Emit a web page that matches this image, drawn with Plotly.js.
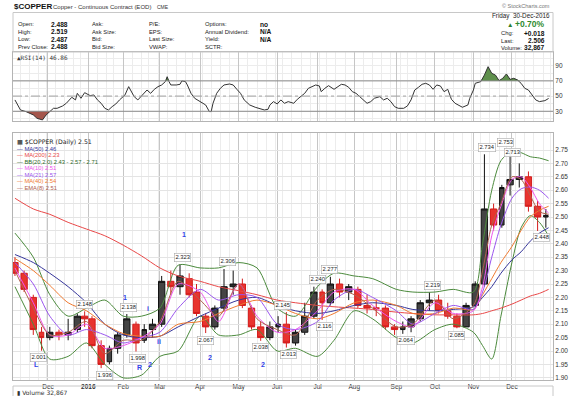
<!DOCTYPE html>
<html><head><meta charset="utf-8">
<script src="https://cdn.plot.ly/plotly-3.0.1.min.js"></script>
<style>body{margin:0;background:#fff}#chart{width:585px;height:396px}</style>
</head><body><div id="chart"></div>
<script>
// ---------- DATA ----------
const weekDates = ['2015-11-04','2015-11-11','2015-11-18','2015-11-25','2015-12-02','2015-12-09','2015-12-16','2015-12-23','2015-12-30','2016-01-06','2016-01-13','2016-01-20','2016-01-27','2016-02-03','2016-02-10','2016-02-17','2016-02-24','2016-03-02','2016-03-09','2016-03-16','2016-03-23','2016-03-30','2016-04-06','2016-04-13','2016-04-20','2016-04-27','2016-05-04','2016-05-11','2016-05-18','2016-05-25','2016-06-01','2016-06-08','2016-06-15','2016-06-22','2016-06-29','2016-07-06','2016-07-13','2016-07-20','2016-07-27','2016-08-03','2016-08-10','2016-08-17','2016-08-24','2016-08-31','2016-09-07','2016-09-14','2016-09-21','2016-09-28','2016-10-05','2016-10-12','2016-10-19','2016-10-26','2016-11-02','2016-11-09','2016-11-16','2016-11-23','2016-11-30','2016-12-07','2016-12-14','2016-12-21','2016-12-28'];
const weekOpen  = [2.33,2.29,2.20,2.07,2.05,2.07,2.06,2.08,2.13,2.12, 2.02,1.96,2.01,2.06,2.10,2.04,2.08,2.10,2.26,2.24, 2.27,2.22,2.13,2.09,2.16,2.24,2.25,2.16,2.09,2.05, 2.09,2.10,2.03,2.07,2.13,2.22,2.18,2.25,2.22,2.23, 2.17,2.16,2.16,2.09,2.08,2.09,2.12,2.18,2.19,2.15, 2.13,2.09,2.17,2.25,2.53,2.47,2.62,2.64,2.65,2.54, 2.50];
const weekHigh  = [2.35,2.30,2.21,2.09,2.09,2.08,2.12,2.14,2.148,2.13, 2.04,2.02,2.07,2.138,2.11,2.10,2.12,2.28,2.30,2.323, 2.29,2.25,2.14,2.17,2.306,2.30,2.27,2.17,2.11,2.11, 2.13,2.145,2.08,2.18,2.240,2.23,2.277,2.27,2.25,2.24, 2.21,2.19,2.17,2.10,2.11,2.13,2.19,2.219,2.21,2.18, 2.14,2.18,2.26,2.734,2.55,2.62,2.753,2.70,2.67,2.56, 2.53];
const weekLow   = [2.28,2.22,2.06,2.001,2.04,2.04,2.04,2.07,2.09,2.01, 1.936,1.95,1.99,2.05,1.998,2.03,2.05,2.09,2.21,2.21, 2.20,2.13,2.067,2.08,2.15,2.21,2.16,2.08,2.038,2.04, 2.07,2.013,2.02,2.06,2.12,2.116,2.17,2.20,2.19,2.16, 2.14,2.13,2.08,2.06,2.064,2.07,2.11,2.15,2.14,2.12, 2.085,2.09,2.16,2.24,2.45,2.46,2.58,2.61,2.52,2.448, 2.46];
const weekClose = [2.29,2.23,2.08,2.05,2.07,2.06,2.07,2.13,2.12,2.02, 1.95,2.01,2.06,2.12,2.03,2.08,2.10,2.26,2.24,2.28, 2.21,2.14,2.09,2.16,2.24,2.25,2.17,2.09,2.05,2.09, 2.10,2.03,2.07,2.13,2.22,2.18,2.25,2.22,2.24,2.17, 2.16,2.16,2.09,2.08,2.09,2.12,2.18,2.19,2.15,2.13, 2.09,2.17,2.25,2.53,2.47,2.61,2.64,2.65,2.54,2.50, 2.506];

const maDates = ['2015-11-04','2015-11-18','2015-12-02','2015-12-16','2015-12-31','2016-01-15','2016-02-01','2016-02-16','2016-03-01','2016-03-15','2016-04-01','2016-04-15','2016-05-02','2016-05-16','2016-06-01','2016-06-15','2016-07-01','2016-07-15','2016-08-01','2016-08-15','2016-09-01','2016-09-15','2016-10-03','2016-10-17','2016-11-01','2016-11-08','2016-11-15','2016-11-22','2016-12-01','2016-12-08','2016-12-15','2016-12-22','2016-12-30'];
const ma200 = [2.57,2.53,2.51,2.48,2.455,2.43,2.395,2.355,2.31,2.28,2.26,2.24,2.225,2.21,2.19,2.18,2.17,2.165,2.16,2.155,2.145,2.14,2.135,2.135,2.135,2.14,2.15,2.16,2.175,2.19,2.205,2.215,2.23];
const ma50  = [2.36,2.33,2.29,2.24,2.18,2.10,2.06,2.05,2.055,2.09,2.13,2.16,2.19,2.20,2.17,2.15,2.14,2.15,2.17,2.18,2.17,2.155,2.15,2.155,2.165,2.20,2.24,2.29,2.34,2.37,2.41,2.44,2.46];
const ma40  = [2.345,2.30,2.245,2.18,2.15,2.10,2.065,2.055,2.055,2.10,2.11,2.14,2.17,2.19,2.17,2.14,2.12,2.14,2.18,2.19,2.17,2.14,2.14,2.16,2.155,2.21,2.27,2.33,2.39,2.45,2.50,2.525,2.54];
const ma21  = [2.33,2.25,2.13,2.06,2.08,2.06,2.03,2.05,2.07,2.16,2.23,2.19,2.21,2.20,2.10,2.08,2.11,2.19,2.23,2.20,2.15,2.10,2.14,2.17,2.155,2.22,2.35,2.47,2.57,2.605,2.612,2.60,2.57];
const ma10  = [2.31,2.18,2.06,2.06,2.10,2.01,2.02,2.05,2.10,2.25,2.22,2.11,2.25,2.13,2.07,2.08,2.15,2.22,2.23,2.17,2.11,2.09,2.18,2.14,2.15,2.24,2.43,2.54,2.64,2.65,2.61,2.55,2.515];
const ema8  = [2.30,2.16,2.06,2.07,2.11,1.99,2.04,2.04,2.11,2.26,2.19,2.13,2.25,2.12,2.08,2.06,2.19,2.23,2.21,2.16,2.09,2.10,2.19,2.12,2.17,2.30,2.47,2.55,2.65,2.64,2.58,2.52,2.51];
const bbUpper = [2.44,2.35,2.21,2.13,2.16,2.19,2.13,2.13,2.16,2.32,2.31,2.31,2.33,2.31,2.16,2.13,2.24,2.29,2.28,2.27,2.23,2.22,2.22,2.23,2.22,2.40,2.60,2.71,2.745,2.74,2.725,2.72,2.71];
const bbLower = [2.24,2.10,1.97,1.98,2.03,1.95,1.90,1.91,1.98,2.00,2.13,2.06,2.06,2.08,2.00,2.01,1.98,2.04,2.15,2.12,2.05,2.03,2.08,2.10,2.07,2.02,1.97,2.13,2.33,2.46,2.505,2.48,2.43];

const rsiDates = ['2015-11-04','2015-11-09','2015-11-12','2015-11-18','2015-11-20','2015-11-25','2015-11-30','2015-12-02','2015-12-04','2015-12-08','2015-12-11','2015-12-15','2015-12-18','2015-12-22','2015-12-23','2015-12-28','2015-12-30','2016-01-05','2016-01-07','2016-01-11','2016-01-13','2016-01-15','2016-01-20','2016-01-22','2016-01-26','2016-01-28','2016-02-02','2016-02-04','2016-02-05','2016-02-09','2016-02-11','2016-02-17','2016-02-19','2016-02-23','2016-02-25','2016-02-29','2016-03-02','2016-03-04','2016-03-07','2016-03-08','2016-03-09','2016-03-14','2016-03-16','2016-03-17','2016-03-21','2016-03-22','2016-03-24','2016-03-29','2016-04-01','2016-04-06','2016-04-08','2016-04-11','2016-04-12','2016-04-14','2016-04-18','2016-04-20','2016-04-25','2016-04-27','2016-04-29','2016-05-03','2016-05-05','2016-05-10','2016-05-13','2016-05-18','2016-05-20','2016-05-24','2016-05-25','2016-05-27','2016-06-01','2016-06-03','2016-06-07','2016-06-09','2016-06-14','2016-06-16','2016-06-20','2016-06-22','2016-06-24','2016-06-28','2016-06-30','2016-07-05','2016-07-06','2016-07-08','2016-07-12','2016-07-15','2016-07-19','2016-07-21','2016-07-25','2016-07-27','2016-07-29','2016-08-02','2016-08-04','2016-08-08','2016-08-10','2016-08-12','2016-08-16','2016-08-19','2016-08-23','2016-08-25','2016-08-29','2016-08-31','2016-09-02','2016-09-08','2016-09-12','2016-09-14','2016-09-16','2016-09-20','2016-09-22','2016-09-26','2016-09-28','2016-09-30','2016-10-04','2016-10-06','2016-10-10','2016-10-12','2016-10-14','2016-10-18','2016-10-20','2016-10-24','2016-10-27','2016-10-28','2016-11-01','2016-11-02','2016-11-07','2016-11-09','2016-11-11','2016-11-15','2016-11-17','2016-11-21','2016-11-23','2016-11-28','2016-11-30','2016-12-02','2016-12-06','2016-12-08','2016-12-12','2016-12-14','2016-12-16','2016-12-20','2016-12-22','2016-12-28','2016-12-30'];
const rsiVals = [44.9,31.7,29.6,25.2,20.8,18.6,25.2,29.6,33.9,33.9,37,40.5,48.4,44.9,53.6,47.1,54.5,50.6,51.5,44.9,40.5,33.9,31.7,36.1,39.6,44.9,51.5,62.4,58,49.3,44.9,52.8,58,53.6,58.9,62.4,64.6,69,75.5,69,64.6,64.6,65.5,69.9,69,64.6,53.6,47.1,42.7,38.3,29.6,29.6,40.5,53.6,60.2,64.6,65.9,64.6,58.9,53.6,44.9,38.3,35.3,32.6,31.7,32.6,38.3,42.7,39.6,44.9,40.5,42.7,40.5,45.8,49.3,53.6,60.2,62.4,64.6,63.3,55.8,60.2,63.7,58.9,62.4,65.5,64.6,61.5,55.8,53.6,49.3,44.9,40.5,42.7,47.1,49.3,44.9,47.1,42.7,36.1,33.9,33.9,37,45,58,61.5,65.5,66.8,64.6,58.9,64.6,63.3,55.8,58.9,45.8,40.5,38.3,35.3,38.3,47.1,58,66.8,69,77.7,88.7,79.9,77.7,70.3,73.4,79.1,72,73.4,71.2,66.8,60.2,58,51.5,44.9,42.7,44,46.86];

const hiDates = ['2015-12-30','2016-02-04','2016-03-17 14:00','2016-04-22','2016-06-06','2016-07-01','2016-07-12 14:00','2016-09-29 14:00','2016-11-10 12:00','2016-11-25 10:00','2016-12-01 14:00'];
const hiVals  = [2.148,2.138,2.323,2.306,2.145,2.240,2.277,2.219,2.734,2.753,2.713];
const loDates = ['2015-11-23','2016-01-15','2016-02-11','2016-04-06','2016-05-18','2016-06-09','2016-07-08','2016-09-09','2016-10-19','2016-12-23'];
const loVals  = [2.001,1.936,1.998,2.067,2.038,2.013,2.116,2.064,2.085,2.448];

const waveText  = ['L','1','R','2','i','ii','1','2','2'];
const waveDates = ['2015-11-20','2016-02-02','2016-02-12','2016-02-22 10:00','2016-02-19 10:00','2016-02-29 12:00','2016-03-18','2016-04-08 12:00','2016-05-19'];
const waveVals  = [1.948,2.198,1.940,1.951,2.157,2.035,2.433,1.975,1.950];

const monthTickDates = ['2015-12-01','2016-01-04','2016-02-01','2016-03-01','2016-04-01','2016-05-02','2016-06-01','2016-07-01','2016-08-01','2016-09-01','2016-10-03','2016-11-01','2016-12-01'];
const monthTickText  = ['Dec','<b>2016</b>','Feb','Mar','Apr','May','Jun','Jul','Aug','Sep','Oct','Nov','Dec'];
const priceTicks = [1.90,1.95,2.00,2.05,2.10,2.15,2.20,2.25,2.30,2.35,2.40,2.45,2.50,2.55,2.60,2.65,2.70,2.75];
const rsiTicks = [30,50,70,90];
const holidays = ['2015-11-26','2015-12-25','2016-01-01','2016-01-18','2016-02-15','2016-03-25','2016-05-30','2016-07-04','2016-09-05','2016-11-24','2016-12-26'];

const legendNames  = ['MA(50)','MA(200)','BB(20,2.0)','MA(10)','MA(21)','MA(40)','EMA(8)'];
const legendValues = ['2.46','2.23','2.43 - 2.57 - 2.71','2.51','2.57','2.54','2.51'];
const quoteLabels1 = ['Open:','High:','Low:','Prev Close:'];
const quoteValues1 = ['2.488','2.519','2.487','2.488'];
const quoteLabels2 = ['Ask:','Ask Size:','Bid:','Bid Size:'];
const quoteLabels3 = ['P/E:','EPS:','Last Size:','VWAP:'];
const quoteLabels4 = ['Options:','Annual Dividend:','Yield:','SCTR:'];
const quoteValues4 = ['no','N/A','N/A',''];
const rightLabels = ['Chg:','Last:','Volume:'];
const rightValues = ['+0.018','2.506','32,867'];

// ---------- STYLE / LAYOUT ----------
const W=585,H=396,L=13,R=553;
const X = px => (px-L)/(R-L);
const Y = py => 1 - py/H;
const priceAt = py => 2.75 - (py-150)/268;
const C = {ma50:'#35359a', ma200:'#e94848', bb:'#4b8a3c', ma10:'#ee55ee', ma21:'#9a55ee', ma40:'#f07a30', ema8:'#b0604e'};
const legendColors = [C.ma50,C.ma200,'#2f6b2a',C.ma10,C.ma21,C.ma40,C.ema8];
const FONT = 'Liberation Sans, Arial, sans-serif';
const xRange = ['2015-11-02 22:20','2017-01-03 09:36'];
const breaks = [{bounds:['sat','mon']},{values:holidays}];

const lineTrace = (y,color,w) => ({type:'scatter',mode:'lines',x:maDates,y:y,xaxis:'x',yaxis:'y',
  line:{color:color,width:w||1,shape:'spline',smoothing:0.8},hoverinfo:'skip'});

const traces = [
  lineTrace(bbUpper,C.bb), lineTrace(bbLower,C.bb),
  lineTrace(ma200,C.ma200), lineTrace(ma50,C.ma50), lineTrace(ma40,C.ma40),
  lineTrace(ma21,C.ma21), lineTrace(ma10,C.ma10), lineTrace(ema8,C.ema8),
  {type:'candlestick',x:weekDates,open:weekOpen,high:weekHigh,low:weekLow,close:weekClose,xaxis:'x',yaxis:'y',
   whiskerwidth:0,
   increasing:{line:{color:'#111',width:1},fillcolor:'#444'},
   decreasing:{line:{color:'#d41c1c',width:1},fillcolor:'#e8342e'}},
  {type:'scatter',mode:'lines',x:rsiDates,y:rsiDates.map(()=>70),xaxis:'x2',yaxis:'y2',line:{width:0},hoverinfo:'skip'},
  {type:'scatter',mode:'lines',x:rsiDates,y:rsiVals.map(v=>Math.max(v,70)),xaxis:'x2',yaxis:'y2',line:{width:0},fill:'tonexty',fillcolor:'#5e8f4c',hoverinfo:'skip'},
  {type:'scatter',mode:'lines',x:rsiDates,y:rsiDates.map(()=>30),xaxis:'x2',yaxis:'y2',line:{width:0},hoverinfo:'skip'},
  {type:'scatter',mode:'lines',x:rsiDates,y:rsiVals.map(v=>Math.min(v,30)),xaxis:'x2',yaxis:'y2',line:{width:0},fill:'tonexty',fillcolor:'#a4564c',hoverinfo:'skip'},
  {type:'scatter',mode:'lines',x:rsiDates,y:rsiVals,xaxis:'x2',yaxis:'y2',line:{color:'#333',width:1}}
];

const ann = [];
const addText = (px,py,text,opt) => ann.push(Object.assign({xref:'paper',yref:'paper',x:X(px),y:Y(py),text:text,showarrow:false,
  xanchor:'left',yanchor:'middle',font:{family:FONT,size:6,color:'#222'}},opt||{}));

// header
addText(12,7,'<b>$COPPER</b>',{font:{family:FONT,size:8,color:'#111'}});
addText(51,7,'Copper - Continuous Contract (EOD)',{font:{family:FONT,size:6,color:'#333'}});
addText(155,7.5,'CME',{font:{family:FONT,size:5,color:'#333'}});
addText(552,6,'© StockCharts.com',{xanchor:'right',font:{family:FONT,size:5.5,color:'#777'}});
const rowsY=[24.3,31.8,39.3,46.8];
rowsY.forEach((ry,i)=>{
  addText(16,ry,quoteLabels1[i],{font:{family:FONT,size:5.8,color:'#222'}});
  addText(49,ry,'<b>'+quoteValues1[i]+'</b>',{font:{family:FONT,size:6.6,color:'#111'}});
  addText(90,ry,quoteLabels2[i],{font:{family:FONT,size:5.8,color:'#222'}});
  addText(147,ry,quoteLabels3[i],{font:{family:FONT,size:5.8,color:'#222'}});
  addText(203,ry,quoteLabels4[i],{font:{family:FONT,size:5.8,color:'#222'}});
  if(quoteValues4[i]) addText(258,ry,'<b>'+quoteValues4[i]+'</b>',{font:{family:FONT,size:6.6,color:'#111'}});
});
addText(552,15.7,'Friday  30-Dec-2016',{xanchor:'right',font:{family:FONT,size:6.3,color:'#222'}});
addText(505,24.3,'▲',{font:{family:FONT,size:6.5,color:'#2e7d2e'}});
addText(547,24.3,'<b>+0.70%</b>',{xanchor:'right',font:{family:FONT,size:8.5,color:'#2e8b2e'}});
[33,40.5,47.8].forEach((ry,i)=>{
  addText(499,ry,rightLabels[i],{font:{family:FONT,size:5.8,color:'#222'}});
  addText(547,ry,'<b>'+rightValues[i]+'</b>',{xanchor:'right',font:{family:FONT,size:6.6,color:'#111'}});
});
// RSI label
addText(15,57.5,'▲RSI(14) 46.86',{font:{family:'DejaVu Sans Mono, monospace',size:6,color:'#333'}});
// legend
addText(15,142.3,'▦ $COPPER (Daily) 2.51',{font:{family:'DejaVu Sans, sans-serif',size:6.2,color:'#222'}});
legendNames.forEach((n,i)=>{
  addText(15,148.8+i*6.5,'— '+n+' '+legendValues[i],{font:{family:FONT,size:5.8,color:legendColors[i]}});
});
// volume panel label
addText(15,392,'▮ Volume 32,867',{font:{family:'DejaVu Sans, sans-serif',size:6,color:'#333'}});

// price labels
hiDates.forEach((d,i)=>ann.push({xref:'x',yref:'y',x:d,y:hiVals[i],text:hiVals[i].toFixed(3),showarrow:false,yshift:7,
  font:{family:FONT,size:5.8,color:'#222'},bgcolor:'rgba(255,255,255,0.9)',bordercolor:'#a8a8a8',borderwidth:0.6,borderpad:0.8}));
loDates.forEach((d,i)=>ann.push({xref:'x',yref:'y',x:d,y:loVals[i],text:loVals[i].toFixed(3),showarrow:false,yshift:-7,
  font:{family:FONT,size:5.8,color:'#222'},bgcolor:'rgba(255,255,255,0.9)',bordercolor:'#a8a8a8',borderwidth:0.6,borderpad:0.8}));
waveText.forEach((t,i)=>ann.push({xref:'x',yref:'y',x:waveDates[i],y:waveVals[i],text:'<b>'+t+'</b>',showarrow:false,
  font:{family:FONT,size:7,color:'#3142e8'}}));

const shapes = [
  {type:'rect',xref:'paper',yref:'paper',x0:X(13),x1:X(553),y0:Y(52),y1:Y(12.5),line:{color:'#c8c8c8',width:1}},
  {type:'rect',xref:'paper',yref:'paper',x0:X(13),x1:X(553),y0:Y(397),y1:Y(386),line:{color:'#c8c8c8',width:1}},
  {type:'line',xref:'x2 domain',yref:'y2',x0:0,x1:1,y0:70,y1:70,line:{color:'#8a8a8a',width:1}},
  {type:'line',xref:'x2 domain',yref:'y2',x0:0,x1:1,y0:30,y1:30,line:{color:'#8a8a8a',width:1}},
  {type:'line',xref:'x2 domain',yref:'y2',x0:0,x1:1,y0:50,y1:50,line:{color:'#a0a0a0',width:1,dash:'dashdot'}}
];

const xCommon = {type:'date',range:xRange,rangebreaks:breaks,showgrid:true,gridcolor:'#c6c6c6',gridwidth:1,
  minor:{dtick:604800000,tick0:'2015-11-02',showgrid:true,gridcolor:'#ececec',gridwidth:1},
  showline:true,linecolor:'#b4b4b4',mirror:true,ticks:'',zeroline:false,fixedrange:true};

const layout = {
  width:W,height:H,margin:{l:L,r:W-R,t:0,b:0},paper_bgcolor:'#fff',plot_bgcolor:'#fff',showlegend:false,
  font:{family:FONT,size:6,color:'#222'},
  xaxis:Object.assign({},xCommon,{domain:[0,1],anchor:'y',tickvals:monthTickDates,ticktext:monthTickText,
    tickfont:{family:FONT,size:6.5,color:'#333'},rangeslider:{visible:false}}),
  yaxis:{domain:[Y(380),Y(133)],anchor:'x',side:'right',range:[priceAt(380),priceAt(133)],tickvals:priceTicks,
    tickformat:'.2f',tickfont:{family:FONT,size:6.5,color:'#333'},showgrid:true,gridcolor:'#e4e4e4',
    showline:true,linecolor:'#b4b4b4',mirror:true,ticks:'',zeroline:false,fixedrange:true},
  xaxis2:Object.assign({},xCommon,{domain:[0,1],anchor:'y2',matches:'x',showticklabels:false,tickvals:monthTickDates}),
  yaxis2:{domain:[Y(121),Y(52)],anchor:'x2',side:'right',range:[17.2,108],tickvals:rsiTicks,
    tickfont:{family:FONT,size:6.5,color:'#333'},showgrid:false,
    minor:{dtick:10,tick0:0,showgrid:true,gridcolor:'#ececec'},
    showline:true,linecolor:'#b4b4b4',mirror:true,ticks:'',zeroline:false,fixedrange:true},
  annotations:ann,shapes:shapes
};
Plotly.newPlot('chart',traces,layout,{staticPlot:true,displayModeBar:false});
</script></body></html>
